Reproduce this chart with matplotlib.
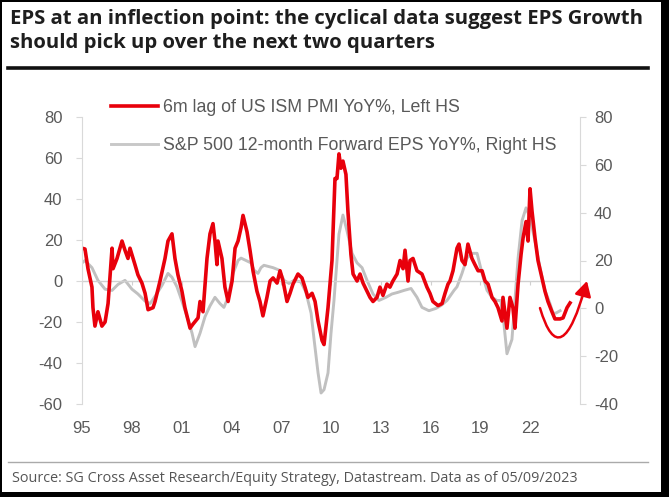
import matplotlib
matplotlib.use("Agg")
import matplotlib.pyplot as plt
from matplotlib.path import Path
from matplotlib.patches import FancyArrowPatch, Rectangle
from matplotlib.lines import Line2D

plt.rcParams["axes.unicode_minus"] = False

# ---------------- data ----------------
ism_years = [1995.00, 1995.18, 1995.36, 1995.60, 1995.66, 1995.78, 1995.96, 1996.20, 1996.39, 1996.57,
             1996.81, 1996.87, 1997.11, 1997.41, 1997.59, 1997.77, 1997.89, 1998.19, 1998.37, 1998.61,
             1998.80, 1998.98, 1999.28, 1999.40, 1999.70, 2000.00, 2000.18, 2000.42, 2000.60, 2000.78,
             2001.02, 2001.20, 2001.51, 2001.69, 2001.99, 2002.11, 2002.29, 2002.53, 2002.71, 2002.89,
             2003.01, 2003.13, 2003.19, 2003.43, 2003.61, 2003.80, 2004.04, 2004.22, 2004.40, 2004.58,
             2004.70, 2004.94, 2005.12, 2005.30, 2005.54, 2005.72, 2005.90, 2006.14, 2006.33, 2006.51,
             2006.75, 2006.93, 2007.11, 2007.35, 2007.53, 2007.71, 2008.01, 2008.25, 2008.43, 2008.61,
             2008.86, 2009.04, 2009.22, 2009.46, 2009.58, 2009.82, 2010.06, 2010.24, 2010.36, 2010.48,
             2010.60, 2010.72, 2010.90, 2011.02, 2011.20, 2011.33, 2011.57, 2011.75, 2011.93, 2012.17,
             2012.35, 2012.53, 2012.77, 2012.95, 2013.13, 2013.37, 2013.55, 2013.73, 2013.98, 2014.16,
             2014.34, 2014.46, 2014.64, 2014.76, 2014.94, 2015.18, 2015.48, 2015.78, 2015.96, 2016.14,
             2016.45, 2016.69, 2016.87, 2017.05, 2017.17, 2017.35, 2017.59, 2017.71, 2017.89, 2018.07,
             2018.25, 2018.49, 2018.67, 2018.86, 2019.10, 2019.28, 2019.46, 2019.70, 2019.88, 2020.06,
             2020.30, 2020.36, 2020.60, 2020.78, 2020.96, 2021.08, 2021.27, 2021.45, 2021.57, 2021.75,
             2021.87, 2021.99, 2022.11, 2022.29, 2022.47, 2022.71, 2022.89, 2023.07, 2023.31, 2023.49,
             2023.80, 2023.98, 2024.22, 2024.40]
ism_yoy = [16, 15.6, 6, -3, -13, -22, -15, -22, -20, -11,
           16, 6, 11, 19.5, 15, 11, 16, 8, 3, -1,
           -6, -14, -13, -10, 0, 11, 19.5, 23, 11, 3,
           -5, -13, -23, -21, -18, -10, -15, 11, 23, 28,
           19.5, 8, 19.5, 11, -3, -10, 0, 16, 19.5, 26,
           32, 24, 15, 5, -5, -10, -17, -8, 0, 1.5,
           -1, 5, 0, -10, -6, -1.5, 3.4, 1.5, -3, -8,
           -6, -10, -19.5, -29, -31, -13, 10, 50, 50, 62,
           55, 58.5, 52, 34, 13, 3.4, 0, 3.4, -1, -5,
           -8, -10, -8, -3, -7, -1.5, -3, 0, 3.4, 10,
           6, 15, 0, 10, 11, 5, 3.4, -3, -6, -10,
           -12, -11, -6, -1.5, 0, 5, 16, 18, 10, 8,
           18, 11, 8, 5, 5, 0, -1.5, -8, -10, -13,
           -19.5, -8, -23, -8, -13, -23, -1.5, 13, 21, 29,
           19.5, 45, 34, 21, 10, 1.5, -5, -10, -15, -18.5,
           -18.5, -18, -13, -10.7]

eps_years = [1995.00, 1995.18, 1995.60, 1995.96, 1996.39, 1996.81, 1997.17, 1997.59, 1998.01, 1998.37,
             1998.80, 1999.10, 1999.40, 1999.82, 2000.18, 2000.42, 2000.72, 2001.02, 2001.33, 2001.63,
             2001.81, 2002.11, 2002.41, 2002.71, 2003.01, 2003.31, 2003.55, 2003.80, 2004.10, 2004.40,
             2004.58, 2004.88, 2005.18, 2005.36, 2005.60, 2005.78, 2005.96, 2006.51, 2006.87, 2007.17,
             2007.47, 2007.77, 2008.19, 2008.49, 2008.80, 2008.98, 2009.22, 2009.40, 2009.58, 2009.82,
             2010.00, 2010.18, 2010.48, 2010.72, 2010.96, 2011.27, 2011.57, 2011.87, 2012.17, 2012.53,
             2012.89, 2013.31, 2013.67, 2014.04, 2014.40, 2014.82, 2015.18, 2015.48, 2015.90, 2016.33,
             2016.63, 2016.99, 2017.41, 2017.59, 2017.89, 2018.19, 2018.49, 2018.80, 2019.10, 2019.40,
             2019.70, 2019.99, 2020.23, 2020.41, 2020.60, 2020.90, 2021.08, 2021.27, 2021.51, 2021.75,
             2021.99, 2022.29, 2022.59, 2022.89, 2023.19, 2023.37, 2023.55, 2023.80]
eps_yoy = [19, 20, 17, 11.7, 8, 7.5, 10, 11.7, 8, 6,
           3, 2, 5, 9.6, 14.6, 13, 9, 3, -3.5, -10.4,
           -16, -10.4, -3.5, 1, 4.6, 2, 0.4, 4.6, 14.6, 20,
           21, 20, 19, 16, 14.6, 17, 18, 17, 16, 11.7,
           10.4, 11.7, 11, 6.7, -2, -13, -27, -35.4, -34, -27,
           -10.4, 3.3, 31, 39, 32.5, 23, 19, 17, 11.7, 6,
           3.3, 4.6, 6, 6.7, 7.5, 8.3, 4.6, 0.4, -1, 0,
           1.2, 3.3, 7.5, 9, 14.6, 21, 23, 23, 14.6, 7.5,
           4.6, 3.3, 3.3, -6, -19, -13, 3.3, 21, 36.7, 42,
           38, 28, 17, 7.5, 2, -2, -2, -1]

xtick_years = [1995, 1998, 2001, 2004, 2007, 2010, 2013, 2016, 2019, 2022]
xtick_labels = ["95", "98", "01", "04", "07", "10", "13", "16", "19", "22"]
left_ticks = [-60, -40, -20, 0, 20, 40, 60, 80]
right_ticks = [-40, -20, 0, 20, 40, 60, 80]

label_ism = "6m lag of US ISM PMI YoY%, Left HS"
label_eps = "S&P 500 12-month Forward EPS YoY%, Right HS"
title = "EPS at an inflection point: the cyclical data suggest EPS Growth\nshould pick up over the next two quarters"
source = "Source: SG Cross Asset Research/Equity Strategy, Datastream. Data as of 05/09/2023"

# arrow annotation (start, control, end) in left-axis data units
arrow_pts = [(2022.59, -13.2), (2023.83, -47.0), (2025.42, 0.0)]

# ---------------- figure ----------------
W, H = 669, 497
fig = plt.figure(figsize=(W / 100, H / 100), dpi=100)
fig.patch.set_facecolor("black")
# white page inside black border
fig.patches.append(Rectangle((2 / W, 1 - 492 / H), (661 - 2) / W, (492 - 2) / H,
                             transform=fig.transFigure, facecolor="white", edgecolor="none", zorder=-5))

RED = "#e8000b"
GRAY = "#c0c0c0"
TXT = "#595959"
SPINE = "#d9d9d9"

ax = fig.add_axes([82 / W, 1 - 404 / H, (580 - 82) / W, (404 - 117) / H])
ax2 = ax.twinx()
ax2.set_zorder(1)
ax.set_zorder(2)
ax.patch.set_visible(False)
ax2.patch.set_visible(False)

ax.plot(ism_years, ism_yoy, color=RED, lw=2.6, solid_joinstyle="round", label=label_ism)
ax2.plot(eps_years, eps_yoy, color=GRAY, lw=2.1, solid_joinstyle="round", label=label_eps)

ax.set_xlim(1995, 2025)
ax.set_ylim(-60, 80)
ax2.set_ylim(-40, 80)
ax.axhline(0, color="#d0d0d0", lw=1.0, zorder=0)

for a in (ax, ax2):
    for s in ("top", "bottom"):
        a.spines[s].set_visible(False)
ax.spines["right"].set_visible(False)
ax2.spines["left"].set_visible(False)
ax.spines["left"].set_color(SPINE)
ax2.spines["right"].set_color(SPINE)

ax.set_yticks(left_ticks)
ax2.set_yticks(right_ticks)
ax.tick_params(axis="y", colors=SPINE, labelcolor=TXT, labelsize=12, length=4, pad=10)
ax2.tick_params(axis="y", colors=SPINE, labelcolor=TXT, labelsize=12, length=4, pad=6)
ax.set_xticks(xtick_years)
ax.set_xticklabels(xtick_labels)
ax.tick_params(axis="x", length=0, labelcolor=TXT, labelsize=12, pad=12)

# small tick marks on the zero line
sec = ax.secondary_xaxis(60 / 140)
sec.set_xticks(xtick_years)
sec.set_xticklabels([])
sec.spines["bottom"].set_visible(False)
sec.tick_params(axis="x", colors="#d0d0d0", length=3)

for t in ax.get_yticklabels() + ax2.get_yticklabels() + ax.get_xticklabels():
    t.set_fontfamily("Liberation Sans")

# legend
handles = [Line2D([], [], color=RED, lw=2.6), Line2D([], [], color="#c8c8c8", lw=2.1)]
leg = fig.legend(handles, [label_ism, label_eps], loc="upper left",
                 bbox_to_anchor=(111 / W, 1 - 99 / H), frameon=False,
                 prop={"family": "Liberation Sans", "size": 12.8},
                 handlelength=2.65, handletextpad=0.3, labelspacing=1.2,
                 borderpad=0, borderaxespad=0)
for t in leg.get_texts():
    t.set_color(TXT)

# curved arrow
path = Path(arrow_pts, [Path.MOVETO, Path.CURVE3, Path.CURVE3])
arr = FancyArrowPatch(path=path, arrowstyle="-|>,head_length=9,head_width=5",
                      color=RED, lw=1.8, transform=ax.transData, clip_on=False, zorder=5)
ax.add_patch(arr)

# title, rules, source
fig.text(10 / W, 1 - 9 / H, title, ha="left", va="top", fontsize=14.6,
         fontweight="bold", family="Open Sans", color="#1e1e1e", linespacing=1.28)
fig.add_artist(Line2D([8 / W, 648 / W], [1 - 68 / H, 1 - 68 / H], color="#111111", lw=2.6))
fig.add_artist(Line2D([8 / W, 648 / W], [1 - 462 / H, 1 - 462 / H], color="#aaaaaa", lw=1.0))
fig.text(12 / W, 1 - 478 / H, source, ha="left", va="center", fontsize=10.4,
         family="Open Sans", color="#555555")

fig.savefig("out.png", dpi=100, facecolor=fig.get_facecolor())
